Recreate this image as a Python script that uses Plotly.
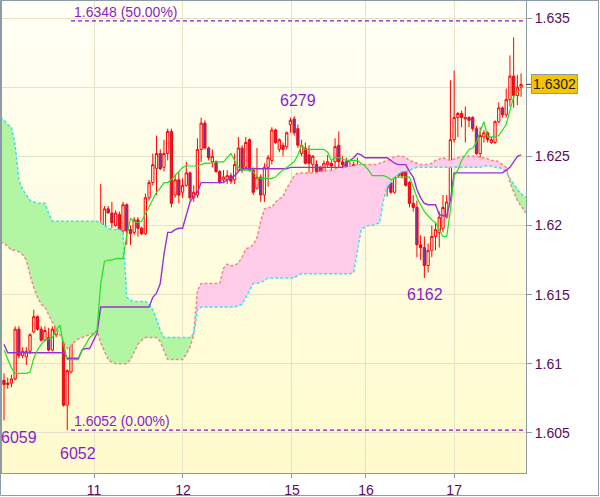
import plotly.graph_objects as go

# ---------------- data (hourly candles, index 0..139) ----------------
open_p = [
    1.6088, 1.6085, 1.6086, 1.6089, 1.6125, 1.6106, 1.6105, 1.6109, 1.6123, 1.6134,
    1.6125, 1.6117, 1.6119, 1.6110, 1.6121, 1.6144, 1.6129, 1.6070, 1.6094, 1.6126,
    1.6124, 1.6127, 1.6161, 1.6146, 1.6133, 1.6176, 1.6182, 1.6199, 1.6212, 1.6209,
    1.6200, 1.6208, 1.6196, 1.6215, 1.6197, 1.6195, 1.6204, 1.6198, 1.6194, 1.6220,
    1.6231, 1.6241, 1.6252, 1.6242, 1.6252, 1.6268, 1.6222, 1.6233, 1.6224, 1.6229,
    1.6238, 1.6220, 1.6222, 1.6255, 1.6274, 1.6256, 1.6246, 1.6246, 1.6239, 1.6233,
    1.6233, 1.6236, 1.6233, 1.6240, 1.6256, 1.6242, 1.6262, 1.6240, 1.6227, 1.6235,
    1.6222, 1.6242, 1.6247, 1.6269, 1.6255, 1.6258, 1.6257, 1.6273, 1.6277, 1.6270,
    1.6252, 1.6256, 1.6251, 1.6244, 1.6244, 1.6242, 1.6235, 1.6244, 1.6245, 1.6246,
    1.6258, 1.6246, 1.6246, 1.6242, 1.6240, 1.6242, 1.6234, 1.6238, 1.6238, 1.6226,
    1.6226, 1.6231, 1.6233, 1.6227, 1.6231, 1.6224, 1.6236, 1.6242, 1.6240, 1.6231,
    1.6216, 1.6213, 1.6186, 1.6184, 1.6171, 1.6182, 1.6192, 1.6195, 1.6198, 1.6206,
    1.6218, 1.6262, 1.6278, 1.6281, 1.6277, 1.6278, 1.6278, 1.6270, 1.6252, 1.6264,
    1.6267, 1.6260, 1.6260, 1.6275, 1.6285, 1.6280, 1.6291, 1.6308, 1.6294, 1.6300]
high_p = [
    1.6093, 1.6090, 1.6092, 1.6127, 1.6127, 1.6112, 1.6112, 1.6122, 1.6139, 1.6135,
    1.6127, 1.6127, 1.6126, 1.6127, 1.6152, 1.6145, 1.6130, 1.6096, 1.6145, 1.6133,
    1.6134, 1.6170, 1.6162, 1.6148, 1.6177, 1.6195, 1.6230, 1.6214, 1.6214, 1.6217,
    1.6211, 1.6210, 1.6217, 1.6216, 1.6200, 1.6206, 1.6206, 1.6199, 1.6223, 1.6233,
    1.6252, 1.6265, 1.6255, 1.6262, 1.6270, 1.6270, 1.6237, 1.6239, 1.6234, 1.6246,
    1.6239, 1.6229, 1.6263, 1.6278, 1.6276, 1.6257, 1.6255, 1.6247, 1.6240, 1.6240,
    1.6240, 1.6238, 1.6252, 1.6264, 1.6258, 1.6264, 1.6263, 1.6242, 1.6256, 1.6237,
    1.6245, 1.6251, 1.6271, 1.6270, 1.6263, 1.6260, 1.6268, 1.6278, 1.6279, 1.6273,
    1.6262, 1.6260, 1.6258, 1.6251, 1.6247, 1.6243, 1.6247, 1.6251, 1.6247, 1.6263,
    1.6268, 1.6250, 1.6249, 1.6246, 1.6246, 1.6249, 1.6244, 1.6239, 1.6240, 1.6240,
    1.6234, 1.6235, 1.6234, 1.6233, 1.6233, 1.6239, 1.6249, 1.6244, 1.6242, 1.6232,
    1.6222, 1.6218, 1.6193, 1.6192, 1.6187, 1.6200, 1.6202, 1.6210, 1.6222, 1.6222,
    1.6305, 1.6312, 1.6282, 1.6283, 1.6286, 1.6279, 1.6279, 1.6272, 1.6271, 1.6269,
    1.6268, 1.6264, 1.6276, 1.6289, 1.6286, 1.6299, 1.6323, 1.6336, 1.6309, 1.6310]
low_p = [
    1.6059, 1.6082, 1.6083, 1.6088, 1.6104, 1.6104, 1.6099, 1.6107, 1.6122, 1.6124,
    1.6116, 1.6116, 1.6109, 1.6109, 1.6119, 1.6127, 1.6069, 1.6052, 1.6093, 1.6119,
    1.6119, 1.6126, 1.6145, 1.6130, 1.6124, 1.6175, 1.6181, 1.6198, 1.6209, 1.6198,
    1.6199, 1.6195, 1.6193, 1.6186, 1.6186, 1.6193, 1.6192, 1.6193, 1.6193, 1.6218,
    1.6229, 1.6222, 1.6240, 1.6239, 1.6247, 1.6213, 1.6220, 1.6216, 1.6220, 1.6228,
    1.6218, 1.6217, 1.6220, 1.6246, 1.6255, 1.6247, 1.6242, 1.6238, 1.6230, 1.6231,
    1.6230, 1.6230, 1.6230, 1.6239, 1.6238, 1.6240, 1.6239, 1.6222, 1.6226, 1.6217,
    1.6217, 1.6228, 1.6244, 1.6259, 1.6253, 1.6250, 1.6255, 1.6267, 1.6265, 1.6256,
    1.6250, 1.6244, 1.6238, 1.6237, 1.6237, 1.6231, 1.6231, 1.6242, 1.6237, 1.6242,
    1.6239, 1.6240, 1.6239, 1.6236, 1.6229, 1.6233, 1.6233, 1.6221, 1.6221, 1.6224,
    1.6224, 1.6227, 1.6226, 1.6221, 1.6223, 1.6223, 1.6235, 1.6234, 1.6228, 1.6213,
    1.6210, 1.6177, 1.6175, 1.6162, 1.6166, 1.6177, 1.6182, 1.6184, 1.6195, 1.6205,
    1.6217, 1.6260, 1.6264, 1.6271, 1.6260, 1.6271, 1.6268, 1.6251, 1.6249, 1.6260,
    1.6260, 1.6259, 1.6259, 1.6274, 1.6278, 1.6278, 1.6286, 1.6285, 1.6287, 1.6293]
close_p = [
    1.6085, 1.6086, 1.6089, 1.6125, 1.6106, 1.6109, 1.6109, 1.6121, 1.6134, 1.6125,
    1.6117, 1.6124, 1.6110, 1.6125, 1.6144, 1.6129, 1.6070, 1.6095, 1.6126, 1.6124,
    1.6127, 1.6162, 1.6146, 1.6132, 1.6175, 1.6183, 1.6199, 1.6212, 1.6209, 1.6202,
    1.6209, 1.6196, 1.6215, 1.6196, 1.6194, 1.6204, 1.6198, 1.6194, 1.6220, 1.6231,
    1.6244, 1.6252, 1.6241, 1.6252, 1.6268, 1.6216, 1.6233, 1.6222, 1.6229, 1.6238,
    1.6220, 1.6224, 1.6255, 1.6274, 1.6256, 1.6249, 1.6250, 1.6239, 1.6231, 1.6235,
    1.6236, 1.6232, 1.6244, 1.6256, 1.6240, 1.6260, 1.6240, 1.6224, 1.6235, 1.6222,
    1.6242, 1.6249, 1.6269, 1.6260, 1.6262, 1.6255, 1.6267, 1.6276, 1.6267, 1.6258,
    1.6258, 1.6245, 1.6245, 1.6250, 1.6239, 1.6235, 1.6245, 1.6246, 1.6243, 1.6257,
    1.6246, 1.6244, 1.6240, 1.6240, 1.6244, 1.6234, 1.6242, 1.6222, 1.6222, 1.6238,
    1.6233, 1.6232, 1.6227, 1.6231, 1.6224, 1.6238, 1.6242, 1.6236, 1.6229, 1.6216,
    1.6213, 1.6186, 1.6184, 1.6171, 1.6182, 1.6192, 1.6197, 1.6206, 1.6213, 1.6217,
    1.6262, 1.6278, 1.6281, 1.6278, 1.6278, 1.6276, 1.6270, 1.6252, 1.6265, 1.6267,
    1.6262, 1.6262, 1.6275, 1.6285, 1.6280, 1.6291, 1.6308, 1.6294, 1.6300, 1.6302]

tenkan = [
    1.6110, 1.6103, 1.6097, 1.6093, 1.6093, 1.6093, 1.6093, 1.6094, 1.6104, 1.6110,
    1.6114, 1.6117, 1.6118, 1.6119, 1.6124, 1.6128, 1.6114, 1.6103, 1.6103, 1.6103,
    1.6103, 1.6110, 1.6114, 1.6119, 1.6121, 1.6124, 1.6158, 1.6174, 1.6175, 1.6175,
    1.6176, 1.6176, 1.6176, 1.6193, 1.6205, 1.6203, 1.6202, 1.6203, 1.6208, 1.6213,
    1.6218, 1.6224, 1.6227, 1.6231, 1.6231, 1.6233, 1.6236, 1.6239, 1.6242, 1.6243,
    1.6243, 1.6243, 1.6243, 1.6244, 1.6245, 1.6245, 1.6245, 1.6246, 1.6246, 1.6246,
    1.6249, 1.6252, 1.6247, 1.6242, 1.6240, 1.6240, 1.6240, 1.6239, 1.6235, 1.6234,
    1.6234, 1.6234, 1.6234, 1.6235, 1.6238, 1.6240, 1.6242, 1.6244, 1.6246, 1.6251,
    1.6258, 1.6255, 1.6255, 1.6255, 1.6255, 1.6255, 1.6255, 1.6253, 1.6247, 1.6249,
    1.6249, 1.6248, 1.6247, 1.6247, 1.6247, 1.6247, 1.6245, 1.6243, 1.6240, 1.6236,
    1.6236, 1.6236, 1.6236, 1.6235, 1.6233, 1.6234, 1.6235, 1.6235, 1.6235, 1.6235,
    1.6228, 1.6220, 1.6215, 1.6210, 1.6207, 1.6204, 1.6202, 1.6197, 1.6192, 1.6192,
    1.6211, 1.6236, 1.6240, 1.6247, 1.6251, 1.6255, 1.6256, 1.6260, 1.6268, 1.6275,
    1.6264, 1.6264, 1.6264, 1.6265, 1.6269, 1.6273, 1.6283, 1.6293, 1.6296, 1.6299]

kijun = [
    1.6114, 1.6108, 1.6108, 1.6108, 1.6108, 1.6108, 1.6108, 1.6108, 1.6108, 1.6108,
    1.6108, 1.6108, 1.6108, 1.6108, 1.6108, 1.6108, 1.6108, 1.6104, 1.6104, 1.6104,
    1.6104, 1.6110, 1.6111, 1.6111, 1.6117, 1.6122, 1.6141, 1.6141, 1.6141, 1.6141,
    1.6141, 1.6141, 1.6141, 1.6141, 1.6141, 1.6141, 1.6141, 1.6141, 1.6141, 1.6141,
    1.6148, 1.6151, 1.6158, 1.6179, 1.6195, 1.6195, 1.6197, 1.6198, 1.6198, 1.6208,
    1.6217, 1.6221, 1.6224, 1.6231, 1.6231, 1.6231, 1.6231, 1.6231, 1.6231, 1.6231,
    1.6233, 1.6234, 1.6236, 1.6239, 1.6241, 1.6241, 1.6241, 1.6241, 1.6241, 1.6241,
    1.6241, 1.6241, 1.6241, 1.6241, 1.6241, 1.6241, 1.6241, 1.6242, 1.6242, 1.6242,
    1.6242, 1.6242, 1.6242, 1.6242, 1.6242, 1.6242, 1.6242, 1.6242, 1.6242, 1.6242,
    1.6242, 1.6242, 1.6245, 1.6247, 1.6249, 1.6252, 1.6251, 1.6249, 1.6249, 1.6249,
    1.6249, 1.6249, 1.6249, 1.6249, 1.6247, 1.6245, 1.6244, 1.6244, 1.6244, 1.6239,
    1.6235, 1.6226, 1.6220, 1.6216, 1.6215, 1.6215, 1.6215, 1.6208, 1.6207, 1.6207,
    1.6218, 1.6238, 1.6238, 1.6238, 1.6238, 1.6238, 1.6238, 1.6238, 1.6238, 1.6238,
    1.6238, 1.6238, 1.6238, 1.6238, 1.6238, 1.6240, 1.6242, 1.6246, 1.6250, 1.6251]

# cloud spans, index -1 .. 141 (shifted ahead of price)
span_a = [
    1.6278, 1.6276, 1.6273, 1.6271, 1.6258, 1.6233, 1.6226, 1.6222, 1.6218, 1.6217,
    1.6216, 1.6216, 1.6216, 1.6209, 1.6203, 1.6203, 1.6203, 1.6203, 1.6203, 1.6203,
    1.6203, 1.6203, 1.6203, 1.6203, 1.6203, 1.6203, 1.6203, 1.6202, 1.6200, 1.6198,
    1.6197, 1.6197, 1.6197, 1.6195, 1.6148, 1.6146, 1.6145, 1.6145, 1.6145, 1.6145,
    1.6143, 1.6139, 1.6132, 1.6124, 1.6119, 1.6119, 1.6119, 1.6119, 1.6119, 1.6119,
    1.6119, 1.6119, 1.6122, 1.6139, 1.6141, 1.6141, 1.6141, 1.6141, 1.6141, 1.6141,
    1.6141, 1.6141, 1.6141, 1.6141, 1.6142, 1.6143, 1.6148, 1.6153, 1.6158, 1.6158,
    1.6159, 1.6160, 1.6162, 1.6162, 1.6162, 1.6162, 1.6162, 1.6162, 1.6162, 1.6162,
    1.6164, 1.6165, 1.6165, 1.6165, 1.6165, 1.6165, 1.6165, 1.6165, 1.6165, 1.6165,
    1.6165, 1.6165, 1.6165, 1.6165, 1.6165, 1.6166, 1.6182, 1.6197, 1.6199, 1.6200,
    1.6200, 1.6201, 1.6202, 1.6218, 1.6228, 1.6231, 1.6235, 1.6237, 1.6239, 1.6239,
    1.6240, 1.6241, 1.6242, 1.6242, 1.6242, 1.6242, 1.6242, 1.6242, 1.6242, 1.6242,
    1.6242, 1.6242, 1.6242, 1.6242, 1.6242, 1.6242, 1.6242, 1.6242, 1.6242, 1.6242,
    1.6243, 1.6243, 1.6243, 1.6242, 1.6242, 1.6241, 1.6239, 1.6234, 1.6230, 1.6226,
    1.6223, 1.6221, 1.6219]
span_b = [
    1.6188, 1.6187, 1.6185, 1.6182, 1.6182, 1.6181, 1.6179, 1.6175, 1.6164, 1.6155,
    1.6148, 1.6143, 1.6141, 1.6135, 1.6130, 1.6126, 1.6121, 1.6115, 1.6111, 1.6113,
    1.6116, 1.6118, 1.6119, 1.6120, 1.6121, 1.6122, 1.6124, 1.6115, 1.6109, 1.6103,
    1.6101, 1.6100, 1.6100, 1.6100, 1.6100, 1.6103, 1.6109, 1.6114, 1.6117, 1.6119,
    1.6119, 1.6119, 1.6119, 1.6116, 1.6110, 1.6103, 1.6103, 1.6103, 1.6103, 1.6103,
    1.6107, 1.6112, 1.6121, 1.6153, 1.6158, 1.6158, 1.6158, 1.6158, 1.6158, 1.6158,
    1.6169, 1.6172, 1.6171, 1.6171, 1.6173, 1.6177, 1.6183, 1.6184, 1.6186, 1.6191,
    1.6203, 1.6212, 1.6213, 1.6213, 1.6217, 1.6219, 1.6221, 1.6227, 1.6231, 1.6236,
    1.6238, 1.6238, 1.6238, 1.6238, 1.6238, 1.6238, 1.6239, 1.6239, 1.6240, 1.6240,
    1.6241, 1.6242, 1.6242, 1.6242, 1.6243, 1.6243, 1.6244, 1.6244, 1.6244, 1.6244,
    1.6244, 1.6244, 1.6245, 1.6246, 1.6247, 1.6248, 1.6250, 1.6250, 1.6250, 1.6249,
    1.6247, 1.6246, 1.6245, 1.6244, 1.6244, 1.6244, 1.6245, 1.6247, 1.6248, 1.6249,
    1.6248, 1.6247, 1.6248, 1.6249, 1.6250, 1.6250, 1.6250, 1.6250, 1.6250, 1.6249,
    1.6249, 1.6248, 1.6247, 1.6247, 1.6246, 1.6244, 1.6242, 1.6231, 1.6224, 1.6218,
    1.6214, 1.6210, 1.6208]

day_labels = ["11", "12", "15", "16", "17"]
day_starts = [24.2, 48.1, 77.4, 97.3, 121.0]      # bar index where each day begins
price_ticks = [1.605, 1.61, 1.615, 1.62, 1.625, 1.63, 1.635]
price_tick_text = ["1.605", "1.61", "1.615", "1.62", "1.625", "", "1.635"]

fib_levels = [1.6348, 1.6052]
fib_texts = ["1.6348 (50.00%)", "1.6052 (0.00%)"]
fib_start = 18

extremes = [  # (bar index, price, label)
    (78, 1.6279, "6279"),
    (0, 1.6059, "6059"),
    (17, 1.6052, "6052"),
    (113, 1.6162, "6162"),
]
last_price = close_p[-1]

# ---------------- derived ----------------
n = len(close_p)
bars = list(range(n))
cloud_x = list(range(-1, len(span_a) - 1))


def split_cross(x, a, b):
    xs, ya, yb = [], [], []
    for k in range(len(x)):
        if k > 0:
            d0 = a[k - 1] - b[k - 1]
            d1 = a[k] - b[k]
            if d0 * d1 < 0:
                t = d0 / (d0 - d1)
                xc = x[k - 1] + t * (x[k] - x[k - 1])
                yc = a[k - 1] + t * (a[k] - a[k - 1])
                xs.append(xc); ya.append(yc); yb.append(yc)
        xs.append(x[k]); ya.append(a[k]); yb.append(b[k])
    return xs, ya, yb


cx, ca, cb = split_cross(cloud_x, span_a, span_b)
ctop = [max(p, q) for p, q in zip(ca, cb)]

FONT = "Liberation Sans, Arial, sans-serif"
PURPLE = "#8a1fc8"
AXTXT = "#5c0a5c"
GRID = "#e4e2c8"
FRAME = "#8e9ba6"

fig = go.Figure()

# green cloud (span A above span B)
fig.add_trace(go.Scatter(x=cx, y=cb, mode="lines", line=dict(width=0), hoverinfo="skip"))
fig.add_trace(go.Scatter(x=cx, y=ctop, mode="lines", line=dict(width=0), fill="tonexty",
                         fillcolor="#b2f5a3", hoverinfo="skip"))
# pink cloud (span B above span A)
fig.add_trace(go.Scatter(x=cx, y=ca, mode="lines", line=dict(width=0), hoverinfo="skip"))
fig.add_trace(go.Scatter(x=cx, y=ctop, mode="lines", line=dict(width=0), fill="tonexty",
                         fillcolor="#ffcde9", hoverinfo="skip"))
# span lines
fig.add_trace(go.Scatter(x=cloud_x, y=span_b, mode="lines",
                         line=dict(color="#f08a8a", width=1.5, dash="3px,2px")))
fig.add_trace(go.Scatter(x=cloud_x, y=span_a, mode="lines",
                         line=dict(color="#3fe0f0", width=1.5, dash="3px,2px")))

# candles
fig.add_trace(go.Candlestick(
    x=bars, open=open_p, high=high_p, low=low_p, close=close_p,
    increasing=dict(line=dict(color="#ff0000", width=1), fillcolor="rgba(0,0,0,0)"),
    decreasing=dict(line=dict(color="#ff0000", width=1), fillcolor="#6a3ca8"),
    whiskerwidth=0, hoverinfo="skip"))

# tenkan / kijun
fig.add_trace(go.Scatter(x=bars, y=kijun, mode="lines", line=dict(color="#9b30d6", width=1.4)))
fig.add_trace(go.Scatter(x=bars, y=tenkan, mode="lines", line=dict(color="#22e022", width=1.2)))

# fibonacci levels
for lvl in fib_levels:
    fig.add_trace(go.Scatter(x=[fib_start, n + 5], y=[lvl, lvl], mode="lines",
                             line=dict(color="#8a10c8", width=1.2, dash="4px,3px")))

annotations = []
for lvl, txt in zip(fib_levels, fib_texts):
    annotations.append(dict(x=fib_start, y=lvl, xref="x", yref="y", text=txt, showarrow=False,
                            xanchor="left", yanchor="bottom", xshift=1, yshift=-1,
                            font=dict(family=FONT, size=14, color=PURPLE)))

shifts = {"6279": (4, 16), "6059": (15, -17), "6052": (11, -23), "6162": (1, -16)}
for idx, price, txt in extremes:
    dx, dy = shifts[txt]
    annotations.append(dict(x=idx, y=price, xref="x", yref="y", text=txt, showarrow=False,
                            xanchor="center", yanchor="middle", xshift=dx, yshift=dy,
                            font=dict(family=FONT, size=16, color=PURPLE)))

annotations.append(dict(x=1, y=last_price, xref="paper", yref="y", text=f"{last_price:.4f}",
                        showarrow=False, xanchor="left", yanchor="middle", xshift=5,
                        bgcolor="#f7c400", bordercolor="#8a9aa8", borderwidth=1, borderpad=1,
                        font=dict(family=FONT, size=14, color="#222222")))

# background gradient bands
shapes = []
NB = 60
top_c = (255, 255, 246)
bot_c = (255, 251, 204)
for k in range(NB):
    t = (k + 0.5) / NB
    r = round(bot_c[0] + (top_c[0] - bot_c[0]) * t)
    g = round(bot_c[1] + (top_c[1] - bot_c[1]) * t)
    b = round(bot_c[2] + (top_c[2] - bot_c[2]) * t)
    shapes.append(dict(type="rect", xref="paper", yref="paper", x0=0, x1=1,
                       y0=k / NB, y1=(k + 1) / NB + 0.002, fillcolor=f"rgb({r},{g},{b})",
                       line=dict(width=0), layer="below"))
# last-price marker tick
shapes.append(dict(type="line", xref="paper", yref="y", x0=1, x1=1.011, y0=last_price, y1=last_price,
                   line=dict(color="#333333", width=1)))
# outer frame
W, H = 600, 497
L, R, T, B = 2, 74, 1, 24
pw, ph = W - L - R, H - T - B
shapes.append(dict(type="rect", xref="paper", yref="paper",
                   x0=(0.5 - L) / pw, x1=(W - 1.5 - L) / pw,
                   y0=-(H - 1.5 - (T + ph)) / ph, y1=1 + (T - 0.5) / ph,
                   line=dict(color=FRAME, width=1), fillcolor="rgba(0,0,0,0)", layer="above"))

fig.update_layout(
    width=W, height=H, margin=dict(l=L, r=R, t=T, b=B, autoexpand=False),
    paper_bgcolor="white", plot_bgcolor="#fffde6",
    showlegend=False, boxgap=0.12, hovermode=False,
    annotations=annotations, shapes=shapes,
    font=dict(family=FONT),
)
fig.update_xaxes(range=[-0.54, 140.32], tickvals=day_starts, ticktext=day_labels,
                 showgrid=True, gridcolor=GRID, gridwidth=1, zeroline=False,
                 ticks="outside", ticklen=4, tickcolor=FRAME, automargin=False,
                 showline=True, linecolor=FRAME, linewidth=1, mirror=True,
                 tickfont=dict(family=FONT, size=14, color=AXTXT),
                 rangeslider=dict(visible=False))
fig.update_yaxes(range=[1.60210, 1.63623], side="right", tickvals=price_ticks, ticktext=price_tick_text,
                 showgrid=True, gridcolor=GRID, gridwidth=1, zeroline=False,
                 ticks="outside", ticklen=5, tickcolor=FRAME, automargin=False,
                 showline=True, linecolor=FRAME, linewidth=1, mirror=True,
                 tickfont=dict(family=FONT, size=14, color=AXTXT))

fig.write_html("out.html", config={"displayModeBar": False},
               post_script="document.body.style.margin='0';document.body.style.padding='0';")
